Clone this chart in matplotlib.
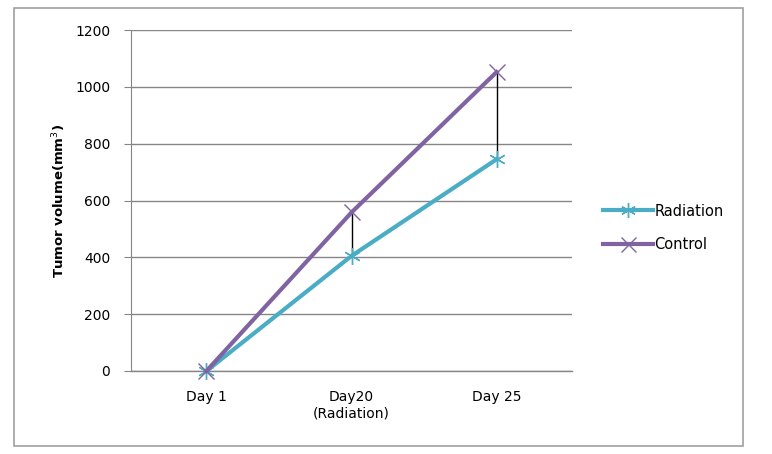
import matplotlib.pyplot as plt
from matplotlib.patches import Rectangle

# data
days = ['Day 1', 'Day20\n(Radiation)', 'Day 25']
radiation = [0, 405, 745]
control = [0, 558, 1052]
yticks = [0, 200, 400, 600, 800, 1000, 1200]

teal = '#4bacc6'
purple = '#8064a2'

fig = plt.figure(figsize=(7.72, 4.54), dpi=100)
# outer chart border
fig.patches.append(Rectangle((14/772, 1-446/454), (743-14)/772, (446-8)/454,
                             transform=fig.transFigure, fill=False,
                             edgecolor='#a0a0a0', linewidth=1.2))

ax = fig.add_axes([131/772, 1-371/454, (572-131)/772, (371-30)/454])
x = list(range(len(days)))

# drop lines between the two series
for i in x[1:]:
    ax.plot([i, i], [radiation[i], control[i]], color='black', linewidth=1, zorder=2)

ax.plot(x, radiation, color=teal, linewidth=3, marker=(6, 2, 0), markersize=12,
        markeredgewidth=1, markeredgecolor=teal, label='Radiation', zorder=3,
        clip_on=False)
ax.plot(x, control, color=purple, linewidth=3, marker='x', markersize=12,
        markeredgewidth=1, markeredgecolor=purple, label='Control', zorder=3,
        clip_on=False)

ax.set_xlim(-0.52, 2.52)
ax.set_ylim(0, 1200)
ax.set_yticks(yticks)
ax.set_xticks(x)
ax.set_xticklabels(days)
ax.grid(axis='y', color='#868686', linewidth=1)
ax.axhline(0, color='#868686', linewidth=1, clip_on=False, zorder=1)
ax.set_axisbelow(True)
for s in ['top', 'right', 'bottom']:
    ax.spines[s].set_visible(False)
ax.spines['left'].set_color('#868686')
ax.tick_params(axis='y', length=5, color='#868686', labelsize=10, pad=10)
ax.tick_params(axis='x', length=0, labelsize=10, pad=14)
ax.set_ylabel('Tumor volume(mm$^3$)', fontsize=9.5, fontweight='bold', labelpad=5)

fig.legend(*ax.get_legend_handles_labels(), loc='center left',
           bbox_to_anchor=(590/772, 1-228/454), frameon=False,
           fontsize=10.5, handlelength=3.4, handletextpad=0.1, labelspacing=1.3,
           markerscale=0.9)

plt.savefig('out.png', dpi=100)
